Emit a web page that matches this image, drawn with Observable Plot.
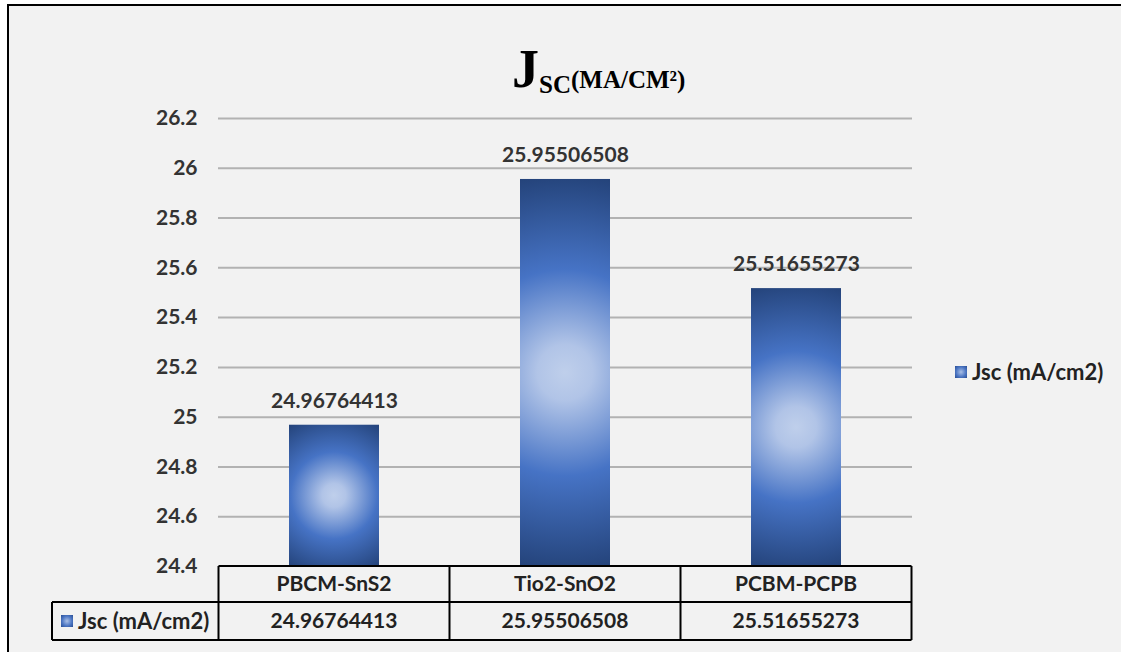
<!DOCTYPE html>
<html>
<head>
<meta charset="utf-8">
<script src="https://cdn.jsdelivr.net/npm/d3@7"></script>
<script src="https://cdn.jsdelivr.net/npm/@observablehq/plot@0.6"></script>
<style>
  html, body { margin: 0; padding: 0; background: #ffffff; }
  #page { position: relative; width: 1121px; height: 652px; overflow: hidden; }
  #panel {
    position: absolute; left: 7px; top: 4px; right: 0; bottom: 0;
    background: #f2f2f2; border-top: 2px solid #000; border-left: 2px solid #000;
  }
  #chart { position: absolute; left: 0; top: 0; }
  #chart svg text { font-family: Lato, "Open Sans", sans-serif; }
</style>
</head>
<body>
<div id="page">
  <div id="panel"></div>
  <div id="chart"></div>
</div>
<script>
// Short-circuit current density of three transport-layer combinations
const categories = ["PBCM-SnS2", "Tio2-SnO2", "PCBM-PCPB"];
const jscValues = [24.96764413, 25.95506508, 25.51655273];
const seriesName = "Jsc (mA/cm2)";
const yTicks = [24.4, 24.6, 24.8, 25, 25.2, 25.4, 25.6, 25.8, 26, 26.2];
const yTickLabels = ["24.4", "24.6", "24.8", "25", "25.2", "25.4", "25.6", "25.8", "26", "26.2"];

const data = categories.map((c, i) => ({category: c, value: jscValues[i]}));
const textColor = "#333333";

const chart = Plot.plot({
  width: 1121,
  height: 652,
  marginTop: 118,
  marginBottom: 86,
  marginLeft: 218,
  marginRight: 209,
  style: {background: "transparent", overflow: "visible"},
  x: {domain: categories, paddingInner: 0.61, paddingOuter: 0.305, axis: null},
  y: {domain: [yTicks[0], yTicks[yTicks.length - 1]], axis: null},
  marks: [
    Plot.ruleY(yTicks.slice(1), {stroke: "#b2b2b2", strokeWidth: 2}),
    Plot.barY(data, {x: "category", y1: yTicks[0], y2: "value", fill: "#4472c4"}),
    Plot.text(data, {
      x: "category", y: "value", text: d => String(d.value),
      dy: -24, fontSize: 21, fontWeight: "bold", fill: textColor
    }),
    Plot.axisY({
      ticks: yTicks,
      tickFormat: d => yTickLabels[yTicks.indexOf(d)],
      tickSize: 0, tickPadding: 21, fontSize: 21, fontWeight: "bold",
      fill: textColor, label: null
    })
  ]
});
document.getElementById("chart").appendChild(chart);

// ---- decorations built from the rendered scales ----
const svg = d3.select(chart);
const xs = chart.scale("x");
const ys = chart.scale("y");
const defs = svg.insert("defs", ":first-child");

const stops = [[0, "#bfcfeb"], [0.14, "#b1c4e7"], [0.52, "#4673c5"], [1, "#24437a"]];
function addStops(g) {
  stops.forEach(([o, c]) => g.append("stop").attr("offset", o).attr("stop-color", c));
}

// Radial "from centre" fill on each bar
svg.selectAll("g[aria-label='bar'] rect").each(function(d, i) {
  const r = d3.select(this);
  const x = +r.attr("x"), y = +r.attr("y"), w = +r.attr("width"), h = +r.attr("height");
  const id = "barGrad" + i;
  const g = defs.append("radialGradient").attr("id", id)
    .attr("gradientUnits", "userSpaceOnUse")
    .attr("cx", x + w / 2).attr("cy", y + h / 2)
    .attr("r", Math.hypot(w, h) / 2);
  addStops(g);
  r.attr("fill", `url(#${id})`);
});

// Small swatch gradient for the legend keys
const sw = defs.append("radialGradient").attr("id", "swatchGrad")
  .attr("cx", 0.5).attr("cy", 0.5).attr("r", 0.7);
sw.append("stop").attr("offset", 0).attr("stop-color", "#a9bfe6");
sw.append("stop").attr("offset", 0.6).attr("stop-color", "#4a74c2");
sw.append("stop").attr("offset", 1).attr("stop-color", "#2b4f93");

// Title: J with subscript SC and unit
const title = svg.append("text").attr("x", 512).attr("y", 87)
  .attr("text-anchor", "start")
  .style("font-family", "'Liberation Serif', 'Times New Roman', serif")
  .attr("font-weight", "bold").attr("fill", "#000");
title.append("tspan").attr("font-size", 54).text("J");
title.append("tspan").attr("font-size", 25).attr("dy", 6).text("SC");
title.append("tspan").attr("font-size", 25).attr("dy", -5).text("(MA/CM²)");

// Legend on the right
const legend = svg.append("g").attr("text-anchor", "start");
legend.append("rect").attr("x", 955).attr("y", 366).attr("width", 12).attr("height", 12)
  .attr("fill", "url(#swatchGrad)");
legend.append("text").attr("x", 972).attr("y", 372).attr("dy", "0.35em")
  .attr("font-size", 22).attr("font-weight", "bold").attr("fill", "#222").text(seriesName);

// Data table under the plot
const step = xs.step, band = xs.bandwidth;
const cellLeft = c => xs.apply(c) - (step - band) / 2;
const xStart = cellLeft(categories[0]);
const xEnd = cellLeft(categories[categories.length - 1]) + step;
const yTop = ys.apply(yTicks[0]);
const yMid = yTop + 36;
const yBot = yMid + 38;
const keyLeft = 52;

const table = svg.append("g").attr("stroke", "#000").attr("stroke-width", 2).attr("fill", "none");
table.append("line").attr("x1", xStart).attr("x2", xEnd).attr("y1", yTop).attr("y2", yTop);
table.append("line").attr("x1", keyLeft).attr("x2", xEnd).attr("y1", yMid).attr("y2", yMid);
table.append("line").attr("x1", keyLeft).attr("x2", xEnd).attr("y1", yBot).attr("y2", yBot);
table.append("line").attr("x1", keyLeft).attr("x2", keyLeft).attr("y1", yMid).attr("y2", yBot);
categories.forEach(c => {
  const l = cellLeft(c);
  table.append("line").attr("x1", l).attr("x2", l).attr("y1", yTop).attr("y2", yBot);
});
table.append("line").attr("x1", xEnd).attr("x2", xEnd).attr("y1", yTop).attr("y2", yBot);

const cells = svg.append("g").attr("font-size", 21).attr("font-weight", "bold").attr("fill", "#222")
  .attr("text-anchor", "middle");
data.forEach(d => {
  const cx = xs.apply(d.category) + band / 2;
  cells.append("text").attr("x", cx).attr("y", (yTop + yMid) / 2).attr("dy", "0.35em").text(d.category);
  cells.append("text").attr("x", cx).attr("y", (yMid + yBot) / 2).attr("dy", "0.35em").text(String(d.value));
});
const key = svg.append("g").attr("text-anchor", "start");
key.append("rect").attr("x", 61).attr("y", (yMid + yBot) / 2 - 6).attr("width", 12).attr("height", 12)
  .attr("fill", "url(#swatchGrad)");
key.append("text").attr("x", 78).attr("y", (yMid + yBot) / 2).attr("dy", "0.35em")
  .attr("font-size", 22).attr("font-weight", "bold").attr("fill", "#222").text(seriesName);
</script>
</body>
</html>
